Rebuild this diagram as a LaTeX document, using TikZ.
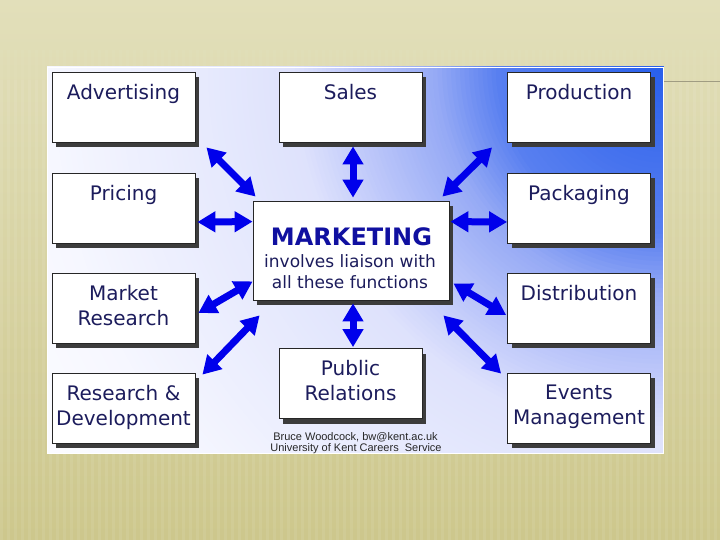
\documentclass[tikz,border=0pt]{standalone}
\usepackage{fontspec}
\setmainfont{DejaVu Sans}
\newfontfamily\credfont{Liberation Sans}
\usetikzlibrary{arrows.meta,shadows,calc}
\definecolor{bgtop}{RGB}{226,223,186}
\definecolor{bgbot}{RGB}{205,199,140}
\definecolor{gc100}{RGB}{246,247,255}
\definecolor{gc60}{RGB}{222,226,252}
\definecolor{gc50}{RGB}{190,200,250}
\definecolor{gc37}{RGB}{150,170,245}
\definecolor{gc27}{RGB}{88,127,240}
\definecolor{gc0}{RGB}{40,95,235}
\definecolor{txtc}{RGB}{28,28,92}
\definecolor{mkc}{RGB}{16,16,160}
\definecolor{arrc}{RGB}{0,0,235}
\definecolor{shc}{RGB}{60,60,60}
\definecolor{linec}{RGB}{160,156,130}
\newcommand{\ringseg}[5]{%
  \foreach \k in {0,...,#5} {
    \pgfmathsetmacro{\rr}{#1+(#2-#1)*\k/#5}
    \pgfmathsetmacro{\pp}{100*\k/#5}
    \fill[#4!\pp!#3] (663,67) circle (\rr);
  }}
\tikzset{
  fnbox/.style={draw=black!85, line width=0.8pt, fill=white, minimum width=143pt,
    minimum height=70pt, inner sep=0pt,
    general shadow={fill=shc, shadow xshift=4pt, shadow yshift=-5pt}},
  fnlabel/.style={font=\fontsize{20}{25}\selectfont, text=txtc, align=center,
    anchor=north, inner sep=0pt},
  mkline/.style={font=\fontsize{17}{20}\selectfont, text=txtc, anchor=base, inner sep=0pt},
  credit/.style={font=\credfont\fontsize{11}{11}\selectfont, text=black!85, anchor=base, inner sep=0pt},
  biarrow/.style={draw=arrc, line width=7pt,
    {Triangle[length=18pt,width=20pt]}-{Triangle[length=18pt,width=20pt]}},
}
\begin{document}
\begin{tikzpicture}[x=1pt,y=-1pt]
\useasboundingbox (0,0) rectangle (720,540);
% slide background
\shade[top color=bgtop, bottom color=bgbot] (0,0) rectangle (720,540);
\foreach \x in {0,7,...,720} {
  \fill[white,opacity=0.03] (\x,50) rectangle ++(3,30);
  \fill[white,opacity=0.08] (\x,80) rectangle ++(3,460);
}
\draw[linec, line width=1pt] (663,82) -- (720,82);
% panel with radial gradient from the top right corner
\begin{scope}
  \clip (47,67) rectangle (663,453);
  \fill[white] (47,67) rectangle (663,453);
  \ringseg{800}{620}{white}{gc100}{18}
  \ringseg{620}{372}{gc100}{gc60}{45}
  \ringseg{372}{310}{gc60}{gc50}{14}
  \ringseg{310}{230}{gc50}{gc37}{18}
  \ringseg{230}{167}{gc37}{gc27}{14}
  \ringseg{167}{2}{gc27}{gc0}{30}
\end{scope}
\draw[white, line width=0.8pt] (47,67) rectangle (663,453);
% boxes
\node[fnbox] (adv) at (123.5,107) {};
\node[fnbox] (pri) at (123.5,208) {};
\node[fnbox] (mr) at (123.5,308) {};
\node[fnbox] (rd) at (123.5,408) {};
\node[fnbox] (sal) at (350.5,107) {};
\node[fnbox] (pr) at (350.5,383.5) {};
\node[fnbox] (pro) at (579,107) {};
\node[fnbox] (pac) at (579,208) {};
\node[fnbox] (dis) at (579,308) {};
\node[fnbox] (ev) at (579,408) {};
\node[fnbox, minimum width=196pt, minimum height=99pt] (mkt) at (351,250.5) {};
% labels
\node[fnlabel] (advt) at ($(adv.north)+(0,12.5)$) {Advertising};
\node[fnlabel] (prit) at ($(pri.north)+(0,12.5)$) {Pricing};
\node[fnlabel] (mrt) at ($(mr.north)+(0,12.5)$) {Market\\Research};
\node[fnlabel] (rdt) at ($(rd.north)+(0,12.5)$) {Research \&\\Development};
\node[fnlabel] (salt) at ($(sal.north)+(0,12.5)$) {Sales};
\node[fnlabel] (prt) at ($(pr.north)+(0,12.5)$) {Public\\Relations};
\node[fnlabel] (prot) at ($(pro.north)+(0,12.5)$) {Production};
\node[fnlabel] (pact) at ($(pac.north)+(0,12.5)$) {Packaging};
\node[fnlabel] (dist) at ($(dis.north)+(0,12.5)$) {Distribution};
\node[fnlabel] (evt) at ($(ev.north)+(0,12.5)$) {Events\\Management};
\node[anchor=base, inner sep=0pt, text=mkc, font=\bfseries\fontsize{24}{28}\selectfont] (mk1) at (351.5,245) {MARKETING};
\node[mkline] (mk2) at (350,267) {involves liaison with};
\node[mkline] (mk3) at (350,288) {all these functions};
\node[credit] (cr1) at (355.5,440) {Bruce Woodcock, bw@kent.ac.uk};
\node[credit] (cr2) at (356,451) {University of Kent Careers\ \ Service};
% arrows
\draw[biarrow] ($(adv.south east)+(11,5)$) -- ($(mkt.north west)+(3,-4)$);
\draw[biarrow] ($(pri.east)+(2,14)$) -- ($(mkt.north west)+(0,21)$);
\draw[biarrow] ($(sal.south)+(2.5,4)$) -- ($(mkt.north)+(2,-3)$);
\draw[biarrow] ($(pro.south west)+(-15,5)$) -- ($(mkt.north east)+(-7,-4)$);
\draw[biarrow] ($(pac.west)+(0,14)$) -- ($(mkt.north east)+(1,21)$);
\draw[biarrow] ($(mr.east)+(3,5)$) -- ($(mkt.south west)+(0,-19)$);
\draw[biarrow] ($(rd.north east)+(7,2)$) -- ($(mkt.south west)+(7,15)$);
\draw[biarrow] ($(pr.north)+(2.5,-1)$) -- ($(mkt.south)+(2,3)$);
\draw[biarrow] ($(dis.west)+(-1,7)$) -- ($(mkt.south east)+(4,-17)$);
\draw[biarrow] ($(ev.north west)+(-6,1)$) -- ($(mkt.south east)+(-6,15)$);
\end{tikzpicture}
\end{document}
